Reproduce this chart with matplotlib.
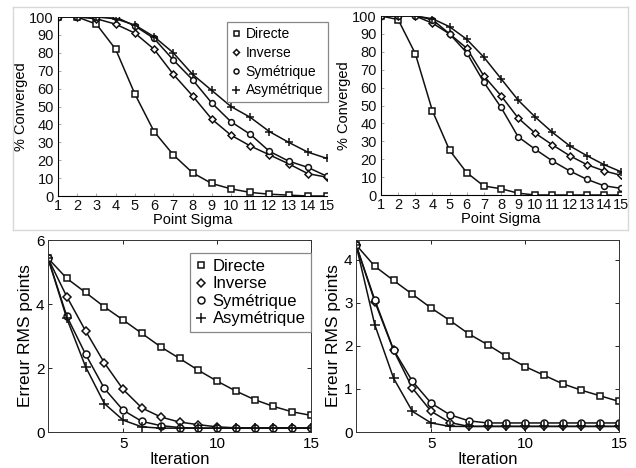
import numpy as np
import matplotlib
matplotlib.use('Agg')
import matplotlib.pyplot as plt
from matplotlib.lines import Line2D

plt.rcParams['font.family'] = ['Liberation Sans', 'DejaVu Sans']

noms = ['Directe', 'Inverse', 'Symétrique', 'Asymétrique']
marqueurs = ['s', 'D', 'o', '+']

sigma = np.arange(1, 16)
iterations = np.arange(1, 16)

# % convergé, panneau haut gauche
conv_g = {
    'Directe':     [100, 100, 96, 82, 57, 36, 23, 13, 7, 4, 2, 1, 0.5, 0, 0],
    'Inverse':     [100, 100, 99, 96, 91, 82, 68, 56, 43, 34, 28, 23, 18, 12.5, 10.5],
    'Symétrique':  [100, 100, 100, 100, 95, 88, 76, 65, 52, 41.5, 34.5, 25, 19.5, 16, 11],
    'Asymétrique': [100, 100, 100, 99, 95.5, 89, 80, 68, 59, 50, 44, 36, 30, 24.5, 21],
}
# % convergé, panneau haut droit
conv_d = {
    'Directe':     [100, 98, 79, 47, 25, 12.5, 5, 3.5, 1, 0, 0, 0, 0, 0, 0],
    'Inverse':     [100, 100, 100, 96, 90, 82, 66.5, 55.5, 43, 34.5, 28, 22, 17, 13.5, 11],
    'Symétrique':  [100, 100, 100, 98, 90, 79.5, 63, 49, 32.5, 25.5, 19, 13.5, 8.8, 5.2, 3.7],
    'Asymétrique': [100, 100, 100, 98.5, 94, 87, 77, 65, 53, 43.5, 35, 27.5, 22, 17, 13],
}
# erreur RMS, panneau bas gauche
rms_g = {
    'Directe':     [5.43, 4.8, 4.36, 3.91, 3.5, 3.08, 2.66, 2.3, 1.93, 1.59, 1.28, 1.01, 0.8, 0.63, 0.52],
    'Inverse':     [5.43, 4.23, 3.16, 2.16, 1.33, 0.75, 0.47, 0.31, 0.23, 0.16, 0.13, 0.13, 0.13, 0.13, 0.13],
    'Symétrique':  [5.43, 3.62, 2.43, 1.36, 0.68, 0.33, 0.2, 0.14, 0.12, 0.12, 0.12, 0.12, 0.12, 0.12, 0.12],
    'Asymétrique': [5.43, 3.55, 2.04, 0.89, 0.37, 0.16, 0.12, 0.12, 0.12, 0.12, 0.12, 0.12, 0.12, 0.12, 0.12],
}
# erreur RMS, panneau bas droit
rms_d = {
    'Directe':     [4.35, 3.85, 3.52, 3.2, 2.88, 2.59, 2.28, 2.03, 1.76, 1.52, 1.32, 1.12, 0.97, 0.84, 0.71],
    'Inverse':     [4.35, 3.03, 1.9, 1.02, 0.48, 0.22, 0.13, 0.13, 0.13, 0.13, 0.13, 0.13, 0.13, 0.13, 0.13],
    'Symétrique':  [4.35, 3.07, 1.91, 1.18, 0.67, 0.4, 0.26, 0.21, 0.21, 0.21, 0.21, 0.21, 0.21, 0.21, 0.21],
    'Asymétrique': [4.35, 2.49, 1.25, 0.48, 0.21, 0.13, 0.13, 0.13, 0.13, 0.13, 0.13, 0.13, 0.13, 0.13, 0.13],
}

fig = plt.figure(figsize=(6.36, 4.68), dpi=100)

# cadre gris autour des deux captures du haut
W, H = 636, 468
cadre = [((13, 628), (7, 7)), ((13, 628), (230, 230)), ((13, 13), (7, 230)), ((628, 628), (7, 230))]
for xs, ys in cadre:
    fig.add_artist(Line2D([x / W for x in xs], [1 - y / H for y in ys],
                          transform=fig.transFigure, color='#d8d8d8', lw=1))


def taille(m, ms):
    return ms * (0.85 if m == 'D' else 1) * (1.5 if m == '+' else 1)


def tracer(ax, x, donnees, ms):
    for nom, m in zip(noms, marqueurs):
        ax.plot(x, donnees[nom], color='#111111', lw=1.1, marker=m, ms=taille(m, ms),
                mfc='white', mec='#111111', mew=1.1)


def legende(ax, ms, fs, esp, pos):
    poignees = [Line2D([], [], ls='none', marker=m, color='#111111', mfc='white',
                       ms=taille(m, ms), mew=1.1) for m in marqueurs]
    leg = ax.legend(poignees, noms, loc='upper left', bbox_to_anchor=(pos[0] / W, 1 - pos[1] / H),
                    bbox_transform=fig.transFigure, fontsize=fs, borderaxespad=0,
                    handlelength=0.6, handletextpad=0.4, labelspacing=esp,
                    borderpad=0.35, fancybox=False, framealpha=1)
    leg.get_frame().set_edgecolor('#888888')
    leg.get_frame().set_linewidth(0.9)


# haut gauche
ax1 = fig.add_axes([58 / W, 1 - 196 / H, 269 / W, 179 / H])
tracer(ax1, sigma, conv_g, 4.2)
legende(ax1, 3.6, 10, 0.35, (227, 22))

# haut droit
ax2 = fig.add_axes([381 / W, 1 - 195 / H, 240 / W, 179 / H])
tracer(ax2, sigma, conv_d, 4.2)

for ax in (ax1, ax2):
    ax.set_xlim(1, 15)
    ax.set_ylim(0, 100)
    ax.set_xticks(sigma)
    ax.set_yticks(np.arange(0, 101, 10))
    ax.set_xlabel('Point Sigma', fontsize=10.5, labelpad=0)
    ax.set_ylabel('% Converged', fontsize=10.5, labelpad=1)
    ax.spines['top'].set_visible(False)
    ax.spines['right'].set_visible(False)
    ax.tick_params(direction='in', length=2.5, width=0.6, labelsize=10.5, colors='#999999',
                   labelcolor='#111111')
    ax.tick_params(axis='x', pad=2.5)
    ax.tick_params(axis='y', pad=3)

# bas gauche
ax3 = fig.add_axes([48 / W, 1 - 432 / H, 263 / W, 192 / H])
tracer(ax3, iterations, rms_g, 5)
ax3.set_ylim(0, 6)
ax3.set_yticks([0, 2, 4, 6])
legende(ax3, 5, 12, 0.15, (190, 253))

# bas droit
ax4 = fig.add_axes([356 / W, 1 - 432 / H, 263 / W, 192 / H])
tracer(ax4, iterations, rms_d, 5)
ax4.set_ylim(0, 4.46)
ax4.set_yticks([0, 1, 2, 3, 4])

for ax in (ax3, ax4):
    ax.set_xlim(1, 15)
    ax.set_xticks([5, 10, 15])
    ax.set_xlabel('Iteration', fontsize=12, labelpad=1)
    ax.set_ylabel('Erreur RMS points', fontsize=12.5, labelpad=2)
    ax.tick_params(direction='in', length=3, width=0.6, labelsize=11, top=True, right=True)
    ax.tick_params(axis='x', pad=3.5)
    ax.tick_params(axis='y', pad=2.5)
    for s in ax.spines.values():
        s.set_linewidth(0.7)
        s.set_color('#333333')

fig.savefig('out.png', dpi=100)
